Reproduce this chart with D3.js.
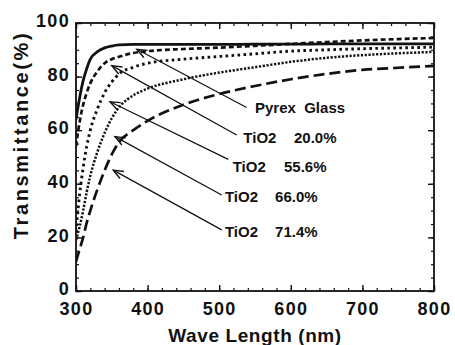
<!DOCTYPE html>
<html>
<head>
<meta charset="utf-8">
<script src="https://cdn.jsdelivr.net/npm/d3@7"></script>
<style>
body { margin: 0; background: #fff; }
svg { display: block; font-family: "Liberation Sans", Arial, sans-serif; font-weight: bold; }
</style>
</head>
<body>
<svg id="chart"></svg>
<script>
// wavelength grid (nm) shared by all curves
let waves = [300, 305, 310, 315, 320, 330, 340, 350, 360, 380, 400, 450, 500, 550, 600, 650, 700, 750, 800]

let pyrex   = [64, 72, 78.5, 83, 86.5, 89.3, 90.7, 91.4, 91.8, 92, 92, 92, 92, 92.1, 92.1, 92.2, 92.2, 92.2, 92.2]
let tio20   = [54, 63, 69.5, 74, 77.5, 82, 85, 86.5, 87.4, 88.8, 89.5, 90.3, 90.8, 91.5, 92.2, 92.9, 93.5, 94, 94.4]
let tio556  = [22, 36, 46, 54, 60, 68, 74, 78, 81, 83.5, 85, 86.5, 87.5, 88.5, 89.5, 90, 90.4, 90.7, 91]
let tio660  = [19, 24, 30, 37, 43, 52, 59, 64.5, 68.5, 73, 75.5, 79, 81.5, 83.5, 85.5, 87, 88, 88.7, 89.2]
let tio714  = [11, 15.5, 20, 25.5, 30, 38, 45, 51, 55.5, 60, 63.5, 69.5, 73.5, 76.5, 79, 81, 82.5, 83.3, 84]

let xTicks = [300, 400, 500, 600, 700, 800]
let yTicks = [0, 20, 40, 60, 80, 100]

// annotation labels: name, percentage, arrow tip and tail, text anchor (data units)
let labelNames = ['Pyrex  Glass', 'TiO2', 'TiO2', 'TiO2', 'TiO2']
let labelPcts  = ['', '20.0%', '55.6%', '66.0%', '71.4%']
let tipX  = [385, 350, 347.5, 354.5, 352]
let tipY  = [90.2, 84.1, 70.6, 57.6, 45.1]
let tailX = [538.3, 524.4, 512.7, 503.5, 503.5]
let tailY = [68.5, 58.2, 49.1, 35.8, 22.8]
let textX = [550, 533.7, 518.9, 508, 508]
let pctX  = [0, 604.5, 590.5, 578, 578]
let textY = [68.3, 57.1, 46.4, 35.2, 22.1]

let width = 455
let height = 345
let margin = {left: 76, right: 21, top: 23, bottom: 54}

let svg = d3.select('#chart').attr('width', width).attr('height', height)

let xScale = d3.scaleLinear().domain([300, 800]).range([margin.left, width - margin.right])
let yScale = d3.scaleLinear().domain([0, 100]).range([height - margin.bottom, margin.top])

let x0 = xScale(300), x1 = xScale(800), y0 = yScale(0), y1 = yScale(100)

let drawAxes = () => {
    let minorX = d3.range(300, 801, 20)
    let minorY = d3.range(0, 101, 5)

    let axes = [
        {axis: d3.axisBottom, scale: xScale, t: 'translate(0,' + y0 + ')', major: xTicks, minor: minorX, labels: true, pad: 11},
        {axis: d3.axisTop, scale: xScale, t: 'translate(0,' + y1 + ')', major: xTicks, minor: minorX, labels: false, pad: 7},
        {axis: d3.axisLeft, scale: yScale, t: 'translate(' + x0 + ',0)', major: yTicks, minor: minorY, labels: true, pad: 6},
        {axis: d3.axisRight, scale: yScale, t: 'translate(' + x1 + ',0)', major: yTicks, minor: minorY, labels: false, pad: 7}
    ]

    axes.forEach(a => {
        svg.append('g')
           .attr('transform', a.t)
           .call(a.axis(a.scale).tickValues(a.minor).tickSizeInner(-3).tickSizeOuter(0).tickFormat(''))
           .call(g => g.select('.domain').remove())
           .selectAll('line').attr('stroke', '#111').attr('stroke-width', 1.2)

        let g = svg.append('g')
           .attr('transform', a.t)
           .call(a.axis(a.scale).tickValues(a.major).tickSizeInner(-6).tickSizeOuter(0).tickPadding(a.pad)
                 .tickFormat(a.labels ? d3.format('d') : ''))
        g.select('.domain').remove()
        g.selectAll('line').attr('stroke', '#111').attr('stroke-width', 1.4)
        g.selectAll('text')
         .attr('fill', '#111')
         .style('font-size', '18px')
         .style('font-weight', 'bold')
         .style('font-family', '"Liberation Sans", Arial, sans-serif')
         .style('letter-spacing', '1.3px')
    })

    // y labels sit a little above their ticks, as in the original
    svg.selectAll('g').filter(function() { return d3.select(this).attr('transform') === 'translate(' + x0 + ',0)' })
       .selectAll('text').attr('dy', '0.2em')

    svg.append('rect')
       .attr('x', x0).attr('y', y1)
       .attr('width', x1 - x0).attr('height', y0 - y1)
       .attr('fill', 'none').attr('stroke', '#111').attr('stroke-width', 1.8)

    svg.append('text')
       .attr('x', (x0 + x1) / 2)
       .attr('y', 342)
       .attr('text-anchor', 'middle')
       .style('font-size', '19px')
       .style('letter-spacing', '0.6px')
       .attr('fill', '#111')
       .text('Wave Length  (nm)')

    svg.append('text')
       .attr('transform', 'translate(28,135) rotate(-90)')
       .attr('text-anchor', 'middle')
       .style('font-size', '20px')
       .style('letter-spacing', '2.6px')
       .attr('fill', '#111')
       .text('Transmittance(%)')
}

let drawCurves = () => {
    let series = [
        {vals: pyrex, dash: null, w: 2.8},
        {vals: tio20, dash: '5,3', w: 2.7},
        {vals: tio556, dash: '2.6,3.4', w: 2.9},
        {vals: tio660, dash: '2.2,1.6', w: 2.5},
        {vals: tio714, dash: '11,5', w: 2.7}
    ]
    let line = d3.line()
                 .x((d, i) => xScale(waves[i]))
                 .y(d => yScale(d))
                 .curve(d3.curveMonotoneX)

    let clip = svg.append('clipPath').attr('id', 'plot-clip')
    clip.append('rect').attr('x', x0).attr('y', y1).attr('width', x1 - x0).attr('height', y0 - y1)

    series.forEach(s => {
        svg.append('path')
           .attr('d', line(s.vals))
           .attr('clip-path', 'url(#plot-clip)')
           .attr('fill', 'none')
           .attr('stroke', '#111')
           .attr('stroke-width', s.w)
           .attr('stroke-dasharray', s.dash)
    })
}

let drawLabels = () => {
    svg.append('defs').append('marker')
       .attr('id', 'arrow')
       .attr('viewBox', '-2 -7 14 14')
       .attr('refX', 0).attr('refY', 0)
       .attr('markerWidth', 14).attr('markerHeight', 14)
       .attr('markerUnits', 'userSpaceOnUse')
       .attr('orient', 'auto')
       .append('path')
       .attr('d', 'M10,-4 L0,0 L10,4')
       .attr('fill', 'none')
       .attr('stroke', '#111')
       .attr('stroke-width', 1.4)

    labelNames.forEach((name, i) => {
        svg.append('line')
           .attr('x1', xScale(tipX[i])).attr('y1', yScale(tipY[i]))
           .attr('x2', xScale(tailX[i])).attr('y2', yScale(tailY[i]))
           .attr('stroke', '#111')
           .attr('stroke-width', 1.2)
           .attr('marker-start', 'url(#arrow)')

        svg.append('text')
           .attr('x', xScale(textX[i]))
           .attr('y', yScale(textY[i]))
           .attr('dy', '0.36em')
           .style('font-size', '15px')
           .attr('fill', '#111')
           .style('white-space', 'pre')
           .text(name)

        if (labelPcts[i]) {
            svg.append('text')
               .attr('x', xScale(pctX[i]))
               .attr('y', yScale(textY[i]))
               .attr('dy', '0.36em')
               .style('font-size', '15px')
               .attr('fill', '#111')
               .text(labelPcts[i])
        }
    })
}

drawAxes()
drawCurves()
drawLabels()
</script>
</body>
</html>
